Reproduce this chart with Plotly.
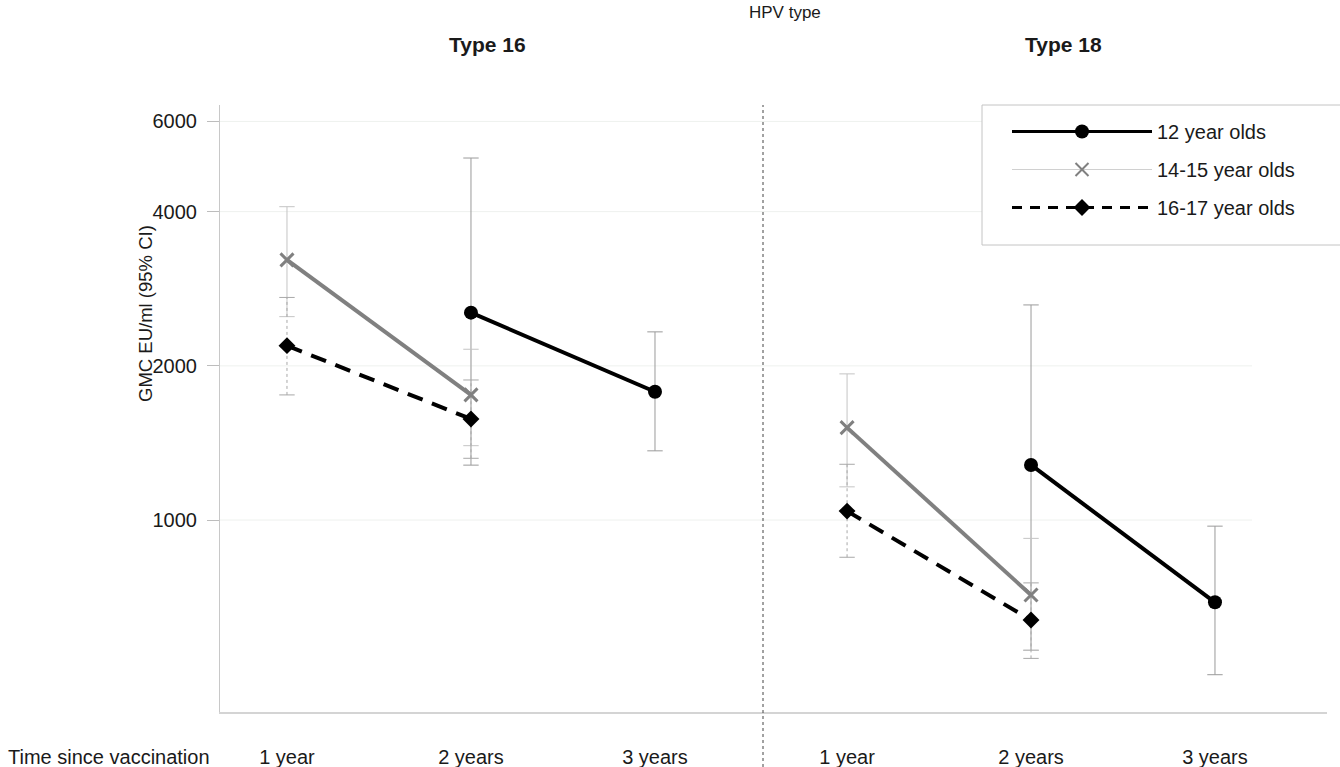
import plotly.graph_objects as go
import math

# ---------------- data ----------------
categories = ["1 year", "2 years", "3 years"]
tick_vals = [1000, 2000, 4000, 6000]
tick_text = ["1000", "2000", "4000", "6000"]
series_names = ["12 year olds", "14-15 year olds", "16-17 year olds"]

# HPV Type 16: GMC and 95% CI
t16_12_gmc = [None, 2540, 1780]
t16_12_lo = [None, 1280, 1365]
t16_12_hi = [None, 5090, 2330]

t16_14_gmc = [3220, 1755, None]
t16_14_lo = [2495, 1397, None]
t16_14_hi = [4090, 2155, None]

t16_16_gmc = [2190, 1575, None]
t16_16_lo = [1755, 1320, None]
t16_16_hi = [2720, 1877, None]

# HPV Type 18: GMC and 95% CI
t18_12_gmc = [None, 1281, 691]
t18_12_lo = [None, 557, 499]
t18_12_hi = [None, 2630, 973]

t18_14_gmc = [1515, 714, None]
t18_14_lo = [1161, 557, None]
t18_14_hi = [1929, 921, None]

t18_16_gmc = [1041, 638, None]
t18_16_lo = [846, 537, None]
t18_16_hi = [1285, 754, None]

# ---------------- styling ----------------
FONT = "Liberation Sans, Arial, Helvetica, sans-serif"
W, H = 1340, 767
ML, MR, MT, MB = 220, 13, 105, 55
PW, PH = W - ML - MR, H - MT - MB


def px_x(p):
    return (p - ML) / PW


def px_y(p):
    return (H - MB - p) / PH


styles = [
    dict(color="black", dash="solid", symbol="circle", size=14, mline=0,
         err_color="#9a9a9a", err_dash="solid",
         leg_color="black", leg_width=3, leg_dash="solid", leg_mcolor="black"),
    dict(color="#808080", dash="solid", symbol="x-thin", size=13, mline=3,
         err_color="#c4c4c4", err_dash="solid",
         leg_color="#d0d0d0", leg_width=1, leg_dash="solid", leg_mcolor="#808080"),
    dict(color="black", dash="16px,10px", symbol="diamond", size=13, mline=0,
         err_color="#a8a8a8", err_dash="dot",
         leg_color="black", leg_width=3, leg_dash="10px,8px", leg_mcolor="black"),
]

panels = [
    ("x", "y", [(t16_12_gmc, t16_12_lo, t16_12_hi),
                (t16_14_gmc, t16_14_lo, t16_14_hi),
                (t16_16_gmc, t16_16_lo, t16_16_hi)]),
    ("x2", "y2", [(t18_12_gmc, t18_12_lo, t18_12_hi),
                  (t18_14_gmc, t18_14_lo, t18_14_hi),
                  (t18_16_gmc, t18_16_lo, t18_16_hi)]),
]

fig = go.Figure()

# error bars first (underneath)
for xa, ya, series in panels:
    for (gmc, lo, hi), st in zip(series, styles):
        ex, ey = [], []
        for c, g, l, h in zip(categories, gmc, lo, hi):
            if g is None:
                continue
            ex += [c, c, None]
            ey += [l, h, None]
        fig.add_trace(go.Scatter(
            x=ex, y=ey, xaxis=xa, yaxis=ya, mode="lines+markers",
            line=dict(color=st["err_color"], width=1, dash=st["err_dash"]),
            marker=dict(symbol="line-ew", size=11,
                        line=dict(color=st["err_color"], width=1)),
            showlegend=False, hoverinfo="skip", connectgaps=False,
        ))

# main series
for pi, (xa, ya, series) in enumerate(panels):
    for si, ((gmc, lo, hi), st, name) in enumerate(zip(series, styles, series_names)):
        fig.add_trace(go.Scatter(
            x=categories, y=gmc, xaxis=xa, yaxis=ya, name=name,
            mode="lines+markers",
            line=dict(color=st["color"], width=4, dash=st["dash"]),
            marker=dict(symbol=st["symbol"], size=st["size"], color=st["color"],
                        line=dict(color=st["color"], width=st["mline"])),
            legendgroup=name, showlegend=False, connectgaps=False,
        ))

# legend keys styled like the original (error-bar style samples)
for st, name in zip(styles, series_names):
    fig.add_trace(go.Scatter(
        x=[None], y=[None], name=name, mode="lines+markers",
        line=dict(color=st["leg_color"], width=st["leg_width"], dash=st["leg_dash"]),
        marker=dict(symbol=st["symbol"], size=st["size"], color=st["leg_mcolor"],
                    line=dict(color=st["leg_mcolor"], width=st["mline"] and 2)),
        legendgroup=name, showlegend=True,
    ))

divider = px_x(763)
yrange = [math.log10(422), math.log10(6460)]

fig.update_layout(
    width=W, height=H, autosize=False,
    margin=dict(l=ML, r=MR, t=MT, b=MB, pad=0, autoexpand=False),
    paper_bgcolor="white", plot_bgcolor="white",
    font=dict(family=FONT, size=20, color="#1a1a1a"),
    xaxis=dict(domain=[0, divider], type="category", categoryorder="array",
               categoryarray=categories, range=[-0.364, 2.587],
               showline=True, linecolor="#d4d4d4", linewidth=1.5,
               showgrid=False, zeroline=False, ticks="", ticklabelstandoff=26,
               tickfont=dict(size=20), automargin=False),
    xaxis2=dict(domain=[divider, 1], type="category", categoryorder="array",
                categoryarray=categories, range=[-0.457, 2.609],
                showline=True, linecolor="#d4d4d4", linewidth=1.5,
                showgrid=False, zeroline=False, ticks="", ticklabelstandoff=26,
                tickfont=dict(size=20), anchor="y2", automargin=False),
    yaxis=dict(type="log", range=yrange, tickvals=tick_vals, ticktext=tick_text,
               showline=True, linecolor="#c8c8c8", linewidth=1,
               ticks="outside", ticklen=12, tickcolor="#bdbdbd",
               ticklabelstandoff=6, showgrid=False, zeroline=False,
               tickfont=dict(size=20), automargin=False),
    yaxis2=dict(type="log", range=yrange, matches="y", anchor="x2",
                showticklabels=False, showline=False, showgrid=False,
                zeroline=False, ticks="", automargin=False),
    legend=dict(x=px_x(1007), y=px_y(112), xanchor="left", yanchor="top",
                borderwidth=0, bgcolor="rgba(0,0,0,0)",
                font=dict(size=20), itemwidth=140, traceorder="grouped",
                tracegroupgap=9),
)

# legend frame
fig.add_shape(type="rect", xref="paper", yref="paper", x0=px_x(982), x1=px_x(1345),
              y0=px_y(245), y1=px_y(105), line=dict(color="#c4c4c4", width=1),
              fillcolor="white", layer="above")

# faint horizontal gridlines
for v in tick_vals:
    fig.add_shape(type="line", xref="paper", yref="y", x0=0, x1=px_x(1252),
                  y0=v, y1=v, line=dict(color="#eef1ee", width=1), layer="below")

# dotted divider between panels
fig.add_shape(type="line", xref="paper", yref="paper", x0=divider, x1=divider,
              y0=px_y(767), y1=1, line=dict(color="#444444", width=1, dash="dot"))

annotations = [
    dict(text="HPV type", x=px_x(785), y=px_y(13), font=dict(size=17)),
    dict(text="<b>Type 16</b>", x=px_x(487), y=px_y(45), font=dict(size=21)),
    dict(text="<b>Type 18</b>", x=px_x(1063), y=px_y(45), font=dict(size=21)),
    dict(text="Time since vaccination", x=px_x(212), y=px_y(757), xanchor="right",
         font=dict(size=20)),
    dict(text="GMC EU/ml (95% CI)", x=px_x(145), y=px_y(314), textangle=-90,
         font=dict(size=18.5)),
]
for a in annotations:
    a.setdefault("xanchor", "center")
    fig.add_annotation(xref="paper", yref="paper", showarrow=False,
                       yanchor="middle", **a)

fig.write_html("out.html",
               config={"displayModeBar": False, "responsive": False},
               post_script="document.body.style.margin='0';document.body.style.overflow='hidden';")
